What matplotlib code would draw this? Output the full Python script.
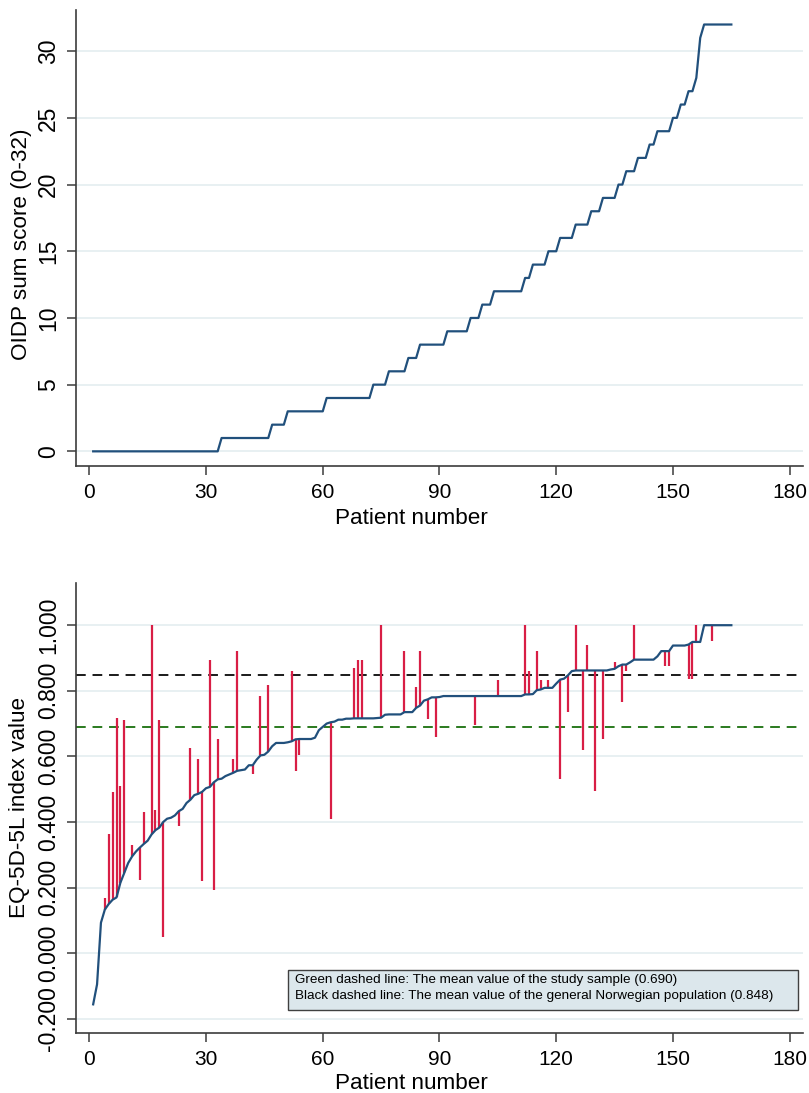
"""
OIDP sum score and EQ-5D-5L index value per patient (two stacked panels)
"""

import matplotlib
matplotlib.use('Agg')
import matplotlib.pyplot as plt
import numpy as np
from matplotlib.patches import Rectangle

plt.rcParams['font.family'] = ['Liberation Sans', 'DejaVu Sans']

# --- data -------------------------------------------------------------------
# OIDP sum score (0-32): number of patients at each score, sorted ascending
oidp_scores = list(range(33))
oidp_counts = [33, 13, 4, 10, 12, 4, 5, 3, 7, 6, 3, 3, 8, 2, 4, 3, 4,
               4, 3, 4, 2, 3, 3, 2, 4, 2, 2, 2, 1, 0, 0, 1, 8]

# EQ-5D-5L index value per patient (blue line)
eq5d_values = [
    -0.156, -0.095, 0.093, 0.133, 0.150, 0.163, 0.170, 0.215, 0.245, 0.275,
    0.295, 0.310, 0.322, 0.333, 0.343, 0.362, 0.375, 0.383, 0.400, 0.410,
    0.413, 0.420, 0.433, 0.440, 0.458, 0.468, 0.482, 0.486, 0.492, 0.503,
    0.507, 0.521, 0.530, 0.532, 0.540, 0.545, 0.550, 0.556, 0.558, 0.560,
    0.573, 0.573, 0.590, 0.603, 0.605, 0.615, 0.631, 0.641, 0.641, 0.641,
    0.643, 0.646, 0.652, 0.653, 0.653, 0.653, 0.653, 0.657, 0.680, 0.690,
    0.700, 0.704, 0.706, 0.712, 0.712, 0.715, 0.715, 0.716, 0.716, 0.716,
    0.716, 0.716, 0.716, 0.717, 0.718, 0.727, 0.728, 0.728, 0.728, 0.728,
    0.735, 0.735, 0.735, 0.748, 0.755, 0.770, 0.774, 0.780, 0.780, 0.781,
    0.784, 0.784, 0.784, 0.784, 0.784, 0.784, 0.784, 0.784, 0.784, 0.784,
    0.784, 0.784, 0.784, 0.784, 0.784, 0.784, 0.784, 0.784, 0.784, 0.784,
    0.784, 0.789, 0.789, 0.790, 0.802, 0.804, 0.809, 0.809, 0.809, 0.822,
    0.834, 0.837, 0.847, 0.860, 0.862, 0.862, 0.862, 0.862, 0.862, 0.862,
    0.862, 0.862, 0.862, 0.865, 0.867, 0.875, 0.880, 0.880, 0.887, 0.895,
    0.895, 0.895, 0.895, 0.895, 0.895, 0.905, 0.921, 0.921, 0.921, 0.938,
    0.938, 0.938, 0.938, 0.941, 0.949, 0.949, 0.949, 1.000, 1.000, 1.000,
    1.000, 1.000, 1.000, 1.000, 1.000,
]

# red spikes: patient number and the value the spike reaches
spike_patients = [4, 5, 6, 7, 8, 9, 11, 13, 14, 16, 17, 18, 19, 23, 26, 28,
                  29, 31, 32, 33, 37, 38, 42, 44, 46, 52, 53, 54, 62, 68, 69,
                  70, 75, 81, 84, 85, 87, 89, 99, 105, 112, 113, 115, 116,
                  118, 121, 123, 125, 127, 128, 130, 132, 135, 137, 138, 140,
                  148, 149, 154, 155, 156, 160]
spike_values = [0.169, 0.362, 0.492, 0.716, 0.511, 0.710, 0.331, 0.222,
                0.431, 1.000, 0.438, 0.712, 0.050, 0.389, 0.626, 0.593,
                0.220, 0.895, 0.192, 0.652, 0.593, 0.921, 0.545, 0.784,
                0.819, 0.860, 0.555, 0.603, 0.408, 0.870, 0.895, 0.895,
                1.000, 0.921, 0.811, 0.921, 0.715, 0.660, 0.697, 0.832,
                1.000, 0.859, 0.921, 0.832, 0.832, 0.532, 0.735, 1.000,
                0.619, 0.941, 0.496, 0.654, 0.887, 0.765, 0.860, 1.000,
                0.875, 0.875, 0.837, 0.837, 1.000, 0.951]

study_mean = 0.690
norway_mean = 0.848

x_ticks = [0, 30, 60, 90, 120, 150, 180]
oidp_ticks = [0, 5, 10, 15, 20, 25, 30]
eq_ticks = [-0.2, 0.0, 0.2, 0.4, 0.6, 0.8, 1.0]

# --- styling ------------------------------------------------------------------
BLUE = '#21507c'
RED = '#d81e45'
GRID = '#e6eff1'
SPINE = '#3c3c3c'
XTICK_FS = 15
YTICK_FS = 16.5
LABEL_FS = 16.2


def style_axes(ax, yticks, ylabels):
    ax.set_xlim(-3.4, 183.5)
    ax.set_xticks(x_ticks)
    ax.set_yticks(yticks)
    ax.set_yticklabels(ylabels, rotation=90, va='center')
    for side in ('top', 'right'):
        ax.spines[side].set_visible(False)
    for side in ('left', 'bottom'):
        ax.spines[side].set_color(SPINE)
        ax.spines[side].set_linewidth(1.2)
    ax.tick_params(axis='x', labelsize=XTICK_FS, length=6.5, width=1.1,
                   color=SPINE, direction='out', pad=6)
    ax.tick_params(axis='y', labelsize=YTICK_FS, length=6.5, width=1.1,
                   color=SPINE, direction='out', pad=5)
    ax.grid(axis='y', color=GRID, linewidth=1.3)
    ax.set_axisbelow(True)
    ax.set_xlabel('Patient number', fontsize=LABEL_FS, labelpad=0)


fig = plt.figure(figsize=(8.09, 10.93), dpi=100)

# top panel: OIDP sum score
ax1 = fig.add_axes([0.094, 0.574, 0.899, 0.417])
oidp = np.repeat(oidp_scores, oidp_counts)
patients = np.arange(1, len(oidp) + 1)
ax1.plot(patients, oidp, color=BLUE, linewidth=1.6, zorder=3)
ax1.set_ylim(-1.07, 33.1)
style_axes(ax1, oidp_ticks, [str(t) for t in oidp_ticks])
ax1.xaxis.set_label_coords(0.461, -0.092)
ax1.set_ylabel('OIDP sum score (0-32)', fontsize=LABEL_FS)
ax1.yaxis.set_label_coords(-0.06, 0.485)

# bottom panel: EQ-5D-5L index value
ax2 = fig.add_axes([0.094, 0.055, 0.899, 0.412])
eq = np.array(eq5d_values)
eq_pat = np.arange(1, len(eq) + 1)
sp = np.array(spike_patients)
ax2.vlines(sp, eq[sp - 1], spike_values, color=RED, linewidth=1.6, zorder=2)
ax2.plot(eq_pat, eq, color=BLUE, linewidth=1.6, zorder=3)
ax2.axhline(norway_mean, color='#1a1a1a', linestyle=(0, (5, 3.5)),
            linewidth=1.4, zorder=1)
ax2.axhline(study_mean, color='#2a7a1e', linestyle=(0, (5, 3.5)),
            linewidth=1.4, zorder=1)
ax2.set_ylim(-0.243, 1.13)
style_axes(ax2, eq_ticks, [f'{t:.3f}' for t in eq_ticks])
ax2.xaxis.set_label_coords(0.461, -0.09)
ax2.set_ylabel('EQ-5D-5L index value', fontsize=LABEL_FS)
ax2.yaxis.set_label_coords(-0.063, 0.5)

# note box
ax2.add_patch(Rectangle((0.2916, 0.051), 0.7014, 0.089, transform=ax2.transAxes,
                        facecolor='#dce7ec', edgecolor='#404040',
                        linewidth=1.0, zorder=4))
ax2.text(0.301, 0.117, 'Green dashed line: The mean value of the study sample (0.690)',
         transform=ax2.transAxes, fontsize=9.7, va='center', ha='left', zorder=5)
ax2.text(0.301, 0.083,
         'Black dashed line: The mean value of the general Norwegian population (0.848)',
         transform=ax2.transAxes, fontsize=9.7, va='center', ha='left', zorder=5)

fig.savefig('out.png', dpi=100)
